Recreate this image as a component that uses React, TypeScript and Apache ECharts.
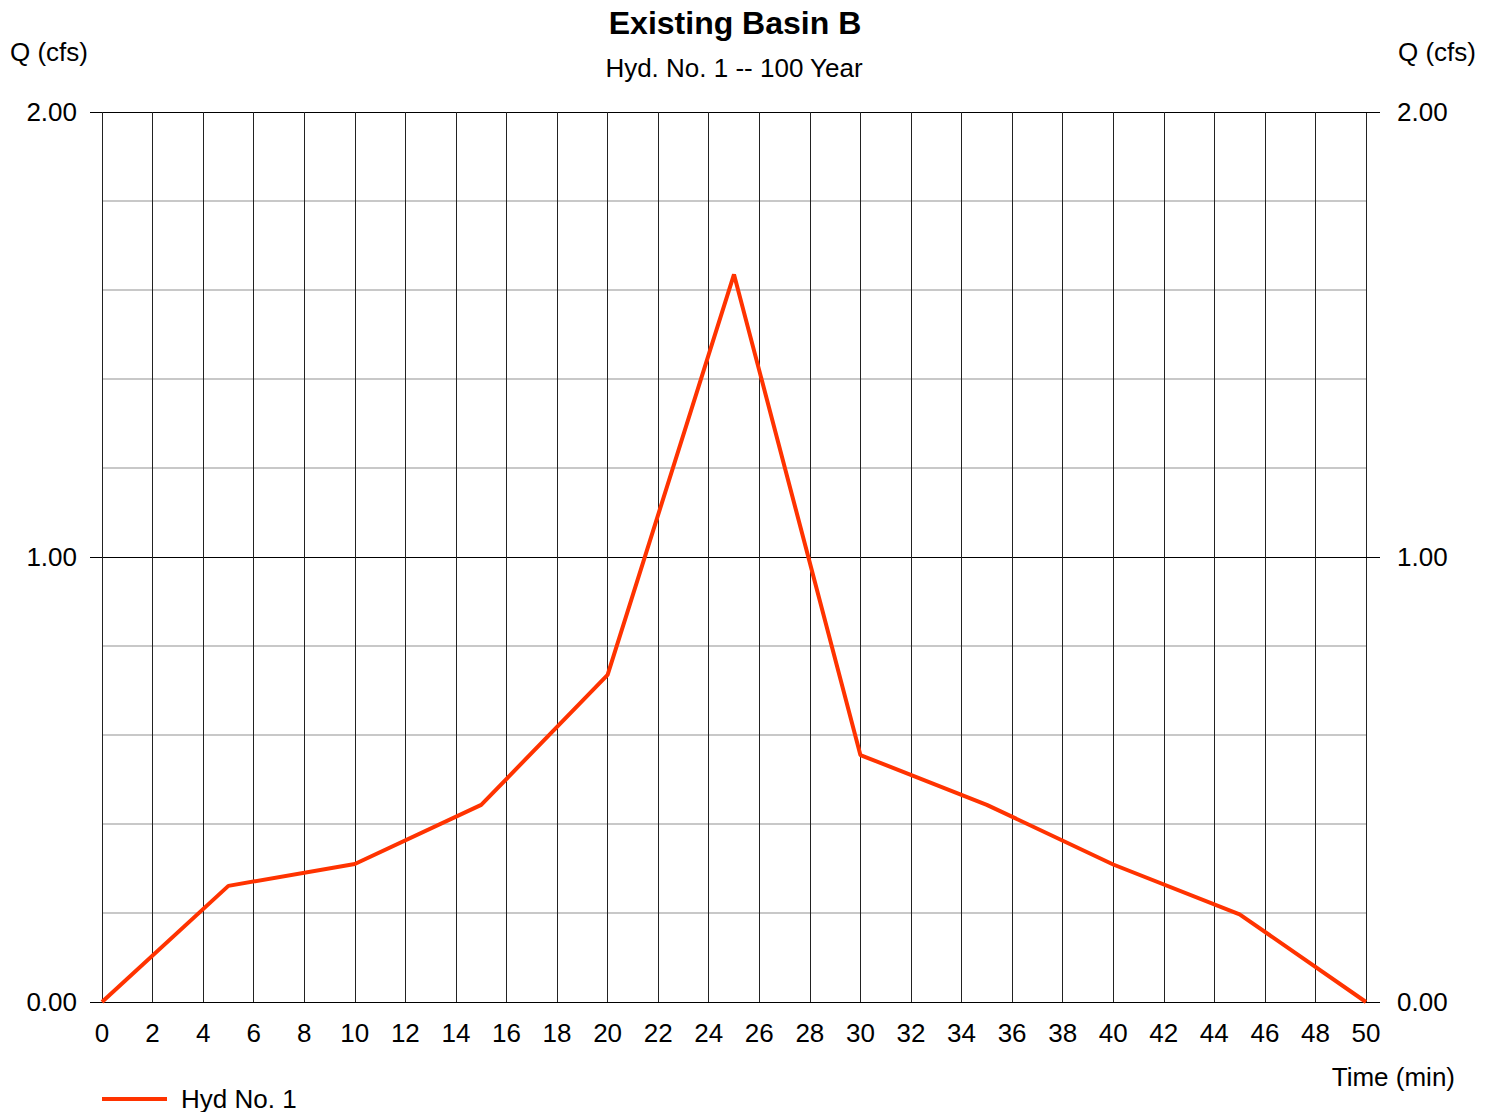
import React, { useEffect, useRef } from "react";
import * as echarts from "echarts";

const times = [0, 5, 10, 15, 20, 25, 30, 35, 40, 45, 50];
const flows = [0, 0.261, 0.31, 0.443, 0.735, 1.635, 0.555, 0.443, 0.309, 0.197, 0];
const titleText = "Existing Basin B";
const subtitleText = "Hyd. No. 1 -- 100 Year";
const seriesName = "Hyd No. 1";

const FONT = "Liberation Sans, Arial, sans-serif";
const FS = 26;

export default function App() {
  const ref = useRef<HTMLDivElement>(null);
  useEffect(() => {
    if (!ref.current) return;
    const chart = echarts.init(ref.current, undefined, { renderer: "svg" });
    const yAxisBase = {
      type: "value",
      min: 0,
      max: 2,
      interval: 1,
      axisLine: { show: false },
      axisTick: { show: true, length: 12, lineStyle: { color: "#000", width: 1 } },
    };
    const labelBase = {
      fontSize: FS,
      color: "#000",
      fontFamily: FONT,
      formatter: (v: number) => v.toFixed(2),
    };
    chart.setOption({
      animation: false,
      backgroundColor: "#fff",
      textStyle: { fontFamily: FONT },
      grid: { left: 102, right: 128, top: 112, bottom: 110 },
      legend: {
        left: 97,
        top: 1081,
        icon: "rect",
        itemWidth: 65,
        itemHeight: 4,
        itemGap: 10,
        textStyle: { fontSize: FS, color: "#000", fontFamily: FONT, padding: [0, 0, 0, 9] },
        data: [seriesName],
      },
      xAxis: {
        type: "value",
        min: 0,
        max: 50,
        interval: 2,
        axisLine: { show: true, lineStyle: { color: "#000", width: 1 } },
        axisTick: { show: false },
        axisLabel: { fontSize: FS, color: "#000", fontFamily: FONT, margin: 18 },
        splitLine: { show: true, lineStyle: { color: "#222", width: 1 } },
      },
      yAxis: [
        {
          ...yAxisBase,
          position: "left",
          axisLabel: { ...labelBase, margin: 25 },
          minorTick: { show: false, splitNumber: 5 },
          minorSplitLine: { show: true, lineStyle: { color: "#c8c8c8", width: 2 } },
          splitLine: { show: true, lineStyle: { color: "#000", width: 1 } },
        },
        {
          ...yAxisBase,
          position: "right",
          axisTick: { show: true, length: 14, lineStyle: { color: "#000", width: 1 } },
          axisLabel: { ...labelBase, margin: 31 },
          splitLine: { show: false },
        },
      ],
      graphic: [
        {
          type: "text",
          x: 735,
          y: 23,
          style: {
            text: titleText,
            fontSize: 32,
            fontWeight: "bold",
            fill: "#000",
            fontFamily: FONT,
            align: "center",
            verticalAlign: "middle",
          },
        },
        {
          type: "text",
          x: 734,
          y: 68,
          style: {
            text: subtitleText,
            fontSize: FS,
            fill: "#000",
            fontFamily: FONT,
            align: "center",
            verticalAlign: "middle",
          },
        },
        { type: "text", left: 10, top: 39, style: { text: "Q (cfs)", fontSize: FS, fill: "#000", fontFamily: FONT } },
        { type: "text", right: 18, top: 39, style: { text: "Q (cfs)", fontSize: FS, fill: "#000", fontFamily: FONT } },
        { type: "text", right: 39, top: 1064, style: { text: "Time (min)", fontSize: FS, fill: "#000", fontFamily: FONT } },
      ],
      series: [
        {
          name: seriesName,
          type: "line",
          data: times.map((t, i) => [t, flows[i]]),
          showSymbol: false,
          symbol: "none",
          lineStyle: { color: "#ff3300", width: 4 },
          itemStyle: { color: "#ff3300" },
          z: 5,
        },
      ],
    });
    return () => chart.dispose();
  }, []);
  return <div ref={ref} style={{ width: 1494, height: 1112, position: "absolute", left: 0, top: 0 }} />;
}
